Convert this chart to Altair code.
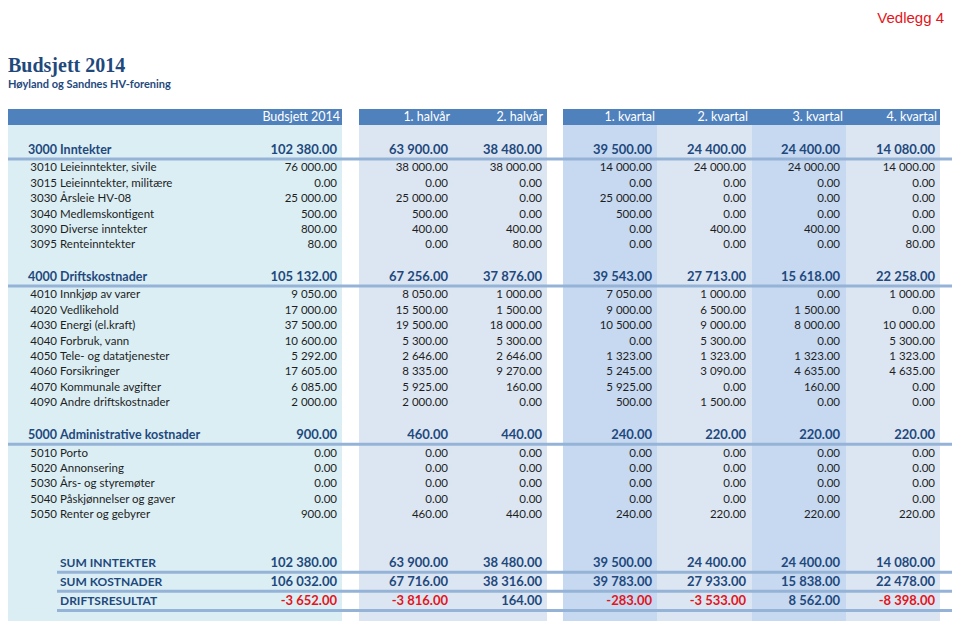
import altair as alt
import pandas as pd

# ---------------- data ----------------
columns = ["Budsjett 2014", "1. halvår", "2. halvår", "1. kvartal", "2. kvartal", "3. kvartal", "4. kvartal"]

group_codes = ["3000", "4000", "5000"]
group_names = ["Inntekter", "Driftskostnader", "Administrative kostnader"]
group_totals = [
    [102380, 63900, 38480, 39500, 24400, 24400, 14080],
    [105132, 67256, 37876, 39543, 27713, 15618, 22258],
    [900, 460, 440, 240, 220, 220, 220],
]

income_codes = ["3010", "3015", "3030", "3040", "3090", "3095"]
income_names = ["Leieinntekter, sivile", "Leieinntekter, militære", "Årsleie HV-08",
                "Medlemskontigent", "Diverse inntekter", "Renteinntekter"]
income_values = [
    [76000, 38000, 38000, 14000, 24000, 24000, 14000],
    [0, 0, 0, 0, 0, 0, 0],
    [25000, 25000, 0, 25000, 0, 0, 0],
    [500, 500, 0, 500, 0, 0, 0],
    [800, 400, 400, 0, 400, 400, 0],
    [80, 0, 80, 0, 0, 0, 80],
]

drift_codes = ["4010", "4020", "4030", "4040", "4050", "4060", "4070", "4090"]
drift_names = ["Innkjøp av varer", "Vedlikehold", "Energi (el.kraft)", "Forbruk, vann",
               "Tele- og datatjenester", "Forsikringer", "Kommunale avgifter", "Andre driftskostnader"]
drift_values = [
    [9050, 8050, 1000, 7050, 1000, 0, 1000],
    [17000, 15500, 1500, 9000, 6500, 1500, 0],
    [37500, 19500, 18000, 10500, 9000, 8000, 10000],
    [10600, 5300, 5300, 0, 5300, 0, 5300],
    [5292, 2646, 2646, 1323, 1323, 1323, 1323],
    [17605, 8335, 9270, 5245, 3090, 4635, 4635],
    [6085, 5925, 160, 5925, 0, 160, 0],
    [2000, 2000, 0, 500, 1500, 0, 0],
]

admin_codes = ["5010", "5020", "5030", "5040", "5050"]
admin_names = ["Porto", "Annonsering", "Års- og styremøter", "Påskjønnelser og gaver", "Renter og gebyrer"]
admin_values = [
    [0, 0, 0, 0, 0, 0, 0],
    [0, 0, 0, 0, 0, 0, 0],
    [0, 0, 0, 0, 0, 0, 0],
    [0, 0, 0, 0, 0, 0, 0],
    [900, 460, 440, 240, 220, 220, 220],
]

sum_labels = ["SUM INNTEKTER", "SUM KOSTNADER", "DRIFTSRESULTAT"]
sum_values = [
    [102380, 63900, 38480, 39500, 24400, 24400, 14080],
    [106032, 67716, 38316, 39783, 27933, 15838, 22478],
    [-3652, -3816, 164, -283, -3533, 8562, -8398],
]

title_text = "Budsjett 2014"
subtitle_text = "Høyland og Sandnes HV-forening"
corner_text = "Vedlegg 4"

# ---------------- layout (page pixel space) ----------------
X0, X1 = 8, 952
Y0, Y1 = 8, 621
VAL_RIGHT = [337, 448, 542, 652, 746, 840, 935]
HEAD_RIGHT = [340, 450, 543, 655, 748, 843, 937]
CODE_RIGHT = 57
NAME_LEFT = 60
STEP = 15.4
BAND_TOP, BAND_BOTTOM = 125, 625
HEAD_TOP = 109
BANDS = [(3, 342, "cyan"), (359, 547, "grey"), (563, 657, "dark"),
         (657, 752, "grey"), (752, 846, "dark"), (846, 940, "grey")]
HEADER_BARS = [(3, 342), (359, 547), (563, 940)]
GROUP_Y = [149.5, 276.5, 434.7]
SUM_Y = [562.7, 581.7, 601.0]

BLUE = "#1F497D"
RED = "#E3141B"
DARK = "#1E1E1E"


def fmt(v):
    s = f"{abs(v):,.2f}".replace(",", " ")
    return ("-" if v < 0 else "") + s


groups = [
    (income_codes, income_names, income_values),
    (drift_codes, drift_names, drift_values),
    (admin_codes, admin_names, admin_values),
]

detail_codes, detail_names, detail_vals = [], [], []
group_code_rows, group_name_rows, group_vals = [], [], []
sep_rows = []
for gi, (codes, names, vals) in enumerate(groups):
    gy = GROUP_Y[gi]
    group_code_rows.append({"x": CODE_RIGHT, "y": gy, "t": group_codes[gi]})
    group_name_rows.append({"x": NAME_LEFT, "y": gy, "t": group_names[gi]})
    for ci, v in enumerate(group_totals[gi]):
        group_vals.append({"x": VAL_RIGHT[ci], "y": gy, "t": fmt(v), "v": v})
    sep_rows.append({"x": 3, "x2": 956, "y": gy + 9.5})
    for ri, (c, n, row) in enumerate(zip(codes, names, vals)):
        y = gy + 18.9 + ri * STEP
        detail_codes.append({"x": CODE_RIGHT, "y": y, "t": c})
        detail_names.append({"x": NAME_LEFT, "y": y, "t": n})
        for ci, v in enumerate(row):
            detail_vals.append({"x": VAL_RIGHT[ci], "y": y, "t": fmt(v), "v": v})

sum_name_rows, sum_val_rows = [], []
for si, lab in enumerate(sum_labels):
    y = SUM_Y[si]
    sum_name_rows.append({"x": NAME_LEFT, "y": y, "t": lab})
    for ci, v in enumerate(sum_values[si]):
        sum_val_rows.append({"x": VAL_RIGHT[ci], "y": y, "t": fmt(v), "v": v})
    sep_rows.append({"x": 57, "x2": 956, "y": y + 9.5})

header_rows = [{"x": HEAD_RIGHT[i], "y": 117, "t": c} for i, c in enumerate(columns)]
band_rows = [{"x": a, "x2": b, "y": BAND_TOP, "y2": BAND_BOTTOM, "k": k} for a, b, k in BANDS]
bar_rows = [{"x": a, "x2": b, "y": HEAD_TOP, "y2": BAND_TOP} for a, b in HEADER_BARS]

xs = alt.Scale(domain=[X0, X1], nice=False, zero=False)
ys = alt.Scale(domain=[Y0, Y1], nice=False, zero=False, reverse=True)


def enc_xy():
    return dict(x=alt.X("x:Q", scale=xs, axis=None), y=alt.Y("y:Q", scale=ys, axis=None))


bands = alt.Chart(pd.DataFrame(band_rows)).mark_rect().encode(
    **enc_xy(), x2="x2:Q", y2="y2:Q",
    color=alt.Color("k:N", scale=alt.Scale(domain=["cyan", "grey", "dark"],
                                           range=["#DBEEF4", "#DCE6F2", "#C6D9F1"]), legend=None),
)
bars = alt.Chart(pd.DataFrame(bar_rows)).mark_rect(color="#4F81BD").encode(
    **enc_xy(), x2="x2:Q", y2="y2:Q")
seps = alt.Chart(pd.DataFrame(sep_rows)).mark_rule(color="#95B3D7", strokeWidth=3).encode(
    **enc_xy(), x2="x2:Q")

FONT = "Lato"


def txt(rows, align, size, weight, color, font=FONT, neg=False, baseline="middle"):
    base = alt.Chart(pd.DataFrame(rows)).mark_text(
        align=align, baseline=baseline, fontSize=size, fontWeight=weight, font=font,
        color=color)
    enc = enc_xy()
    enc["text"] = "t:N"
    if neg:
        enc["color"] = alt.condition("datum.v < 0", alt.value(RED), alt.value(color))
    return base.encode(**enc)


layers = [
    bands, bars, seps,
    txt(header_rows, "right", 12.5, "normal", "white"),
    txt(group_code_rows, "right", 12.5, "bold", BLUE),
    txt(group_name_rows, "left", 12.5, "bold", BLUE),
    txt(group_vals, "right", 13, "bold", BLUE),
    txt(detail_codes, "right", 11.5, "normal", DARK),
    txt(detail_names, "left", 11.5, "normal", DARK),
    txt(detail_vals, "right", 11.5, "normal", DARK),
    txt(sum_name_rows, "left", 12, "bold", BLUE),
    txt(sum_val_rows, "right", 13, "bold", BLUE, neg=True),
    txt([{"x": 8, "y": 66, "t": title_text}], "left", 20, "bold", "#1F497D", font="Liberation Serif"),
    txt([{"x": 8, "y": 85, "t": subtitle_text}], "left", 11, "bold", "#1F497D"),
    txt([{"x": 944, "y": 11, "t": corner_text}], "right", 15, "normal", RED,
        font="Liberation Sans", baseline="top"),
]

chart = alt.layer(*layers).properties(
    width=944, height=613, padding=0,
    autosize=alt.AutoSizeParams(type="none"),
).configure_view(stroke=None)

chart.save("out.html", embed_options={"renderer": "svg", "actions": False})
